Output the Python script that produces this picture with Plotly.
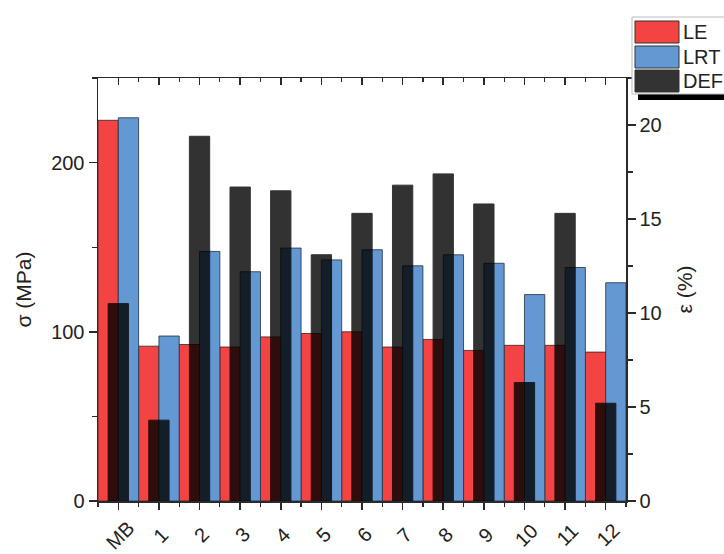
import plotly.graph_objects as go

categories = ["MB", "1", "2", "3", "4", "5", "6", "7", "8", "9", "10", "11", "12"]
le_values = [225, 91.5, 92.5, 91, 97, 99, 100, 91, 95.5, 89, 92, 92, 88]
lrt_values = [226.5, 97.5, 147.5, 135.5, 149.5, 142.5, 148.5, 139, 145.5, 140.5, 122, 138, 129]
def_values = [10.5, 4.3, 19.4, 16.7, 16.5, 13.1, 15.3, 16.8, 17.4, 15.8, 6.3, 15.3, 5.2]
series_names = ["LE", "LRT", "DEF"]

RED = "#F44343"
BLUE = "#6498D2"
DARK = "#333333"
FONT = "Arial, Liberation Sans, sans-serif"
AX = "#2a2a2a"

W, H = 724, 554
# plot area in page pixels
PL, PR, PT, PB = 98, 626, 78, 501

xs = list(range(len(categories)))

fig = go.Figure()
fig.add_trace(go.Bar(x=xs, y=le_values, name=series_names[0], width=0.5, offset=-0.5,
                     marker=dict(color=RED, line=dict(color="#3a2020", width=0.8)),
                     showlegend=False))
fig.add_trace(go.Bar(x=xs, y=lrt_values, name=series_names[1], width=0.5, offset=0,
                     marker=dict(color=BLUE, line=dict(color="#203040", width=0.8)),
                     showlegend=False))
fig.add_trace(go.Bar(x=xs, y=def_values, name=series_names[2], width=0.5, offset=-0.25,
                     xaxis="x2", yaxis="y2", opacity=0.8,
                     marker=dict(color="black", line=dict(color="black", width=1)),
                     showlegend=False))

tickfont = dict(family=FONT, size=20, color="#222")
axis_common = dict(showline=True, linecolor=AX, linewidth=1.5, tickcolor=AX,
                   tickwidth=1.5, showgrid=False, zeroline=False, automargin=False)

fig.update_layout(
    template="none",
    width=W, height=H,
    margin=dict(l=PL, r=W - PR, t=PT, b=H - PB, pad=0, autoexpand=False),
    paper_bgcolor="white", plot_bgcolor="white",
    barmode="overlay",
    xaxis=dict(range=[-0.5, 12.5], tickmode="array", tickvals=xs, showticklabels=False,
               ticks="outside", ticklen=7,
               minor=dict(ticks="outside", ticklen=4, tickmode="linear", tick0=-0.5, dtick=1,
                          tickcolor=AX, tickwidth=1.2),
               **axis_common),
    xaxis2=dict(range=[-0.5, 12.5], overlaying="x", side="top", anchor="y2",
                tickmode="array", tickvals=xs, showticklabels=False,
                ticks="inside", ticklen=7,
                minor=dict(ticks="inside", ticklen=4, tickmode="linear", tick0=-0.5, dtick=1,
                           tickcolor=AX, tickwidth=1.2),
                **axis_common),
    yaxis=dict(range=[0, 250], tickmode="linear", tick0=0, dtick=100,
               ticks="outside", ticklen=8, tickfont=tickfont,
               minor=dict(ticks="outside", ticklen=5, tickmode="linear", tick0=0, dtick=50,
                          tickcolor=AX, tickwidth=1.2),
               title=dict(text="σ (MPa)", font=dict(family=FONT, size=21, color="#222"), standoff=14),
               **axis_common),
    yaxis2=dict(range=[0, 22.5], overlaying="y", side="right", anchor="x2",
                tickmode="linear", tick0=0, dtick=5,
                ticks="outside", ticklen=8, tickfont=tickfont,
                minor=dict(ticks="outside", ticklen=5, tickmode="linear", tick0=0, dtick=2.5,
                           tickcolor=AX, tickwidth=1.2),
                title=dict(text="ε (%)", font=dict(family=FONT, size=21, color="#222"), standoff=16),
                **axis_common),
)

# page pixel -> paper helpers
def px(x):
    return (x - PL) / (PR - PL)

def py(y):
    return (PB - y) / (PB - PT)

annotations = []
# rotated category labels, centred under each tick
for i, lab in zip(xs, categories):
    annotations.append(dict(xref="x", yref="paper", x=i, y=py(535), text=lab,
                            textangle=-45, xanchor="center", yanchor="middle",
                            xshift=2, showarrow=False, font=tickfont))

# custom legend
shapes = []
shapes.append(dict(type="rect", xref="paper", yref="paper", x0=px(638), x1=px(745), y0=py(100), y1=py(23),
                   fillcolor="black", line=dict(width=0), layer="above"))
shapes.append(dict(type="rect", xref="paper", yref="paper", x0=px(632), x1=px(740), y0=py(94), y1=py(17),
                   fillcolor="white", line=dict(color="#bbbbbb", width=1), layer="above"))
sw_colors = [RED, BLUE, DARK]
sw_tops = [21, 46, 70]
for name, col, top in zip(series_names, sw_colors, sw_tops):
    shapes.append(dict(type="rect", xref="paper", yref="paper", x0=px(635), x1=px(679),
                       y0=py(top + 22), y1=py(top), fillcolor=col,
                       line=dict(color="#333", width=1), layer="above"))
    annotations.append(dict(xref="paper", yref="paper", x=px(681), y=py(top + 11),
                            xanchor="left", yanchor="middle", showarrow=False, text=name,
                            font=dict(family=FONT, size=20, color="#222")))
fig.update_layout(shapes=shapes, annotations=annotations)

fig.write_html("out.html",
               config={"displayModeBar": False, "staticPlot": True},
               post_script="document.body.style.margin='0';document.body.style.overflow='hidden';")
